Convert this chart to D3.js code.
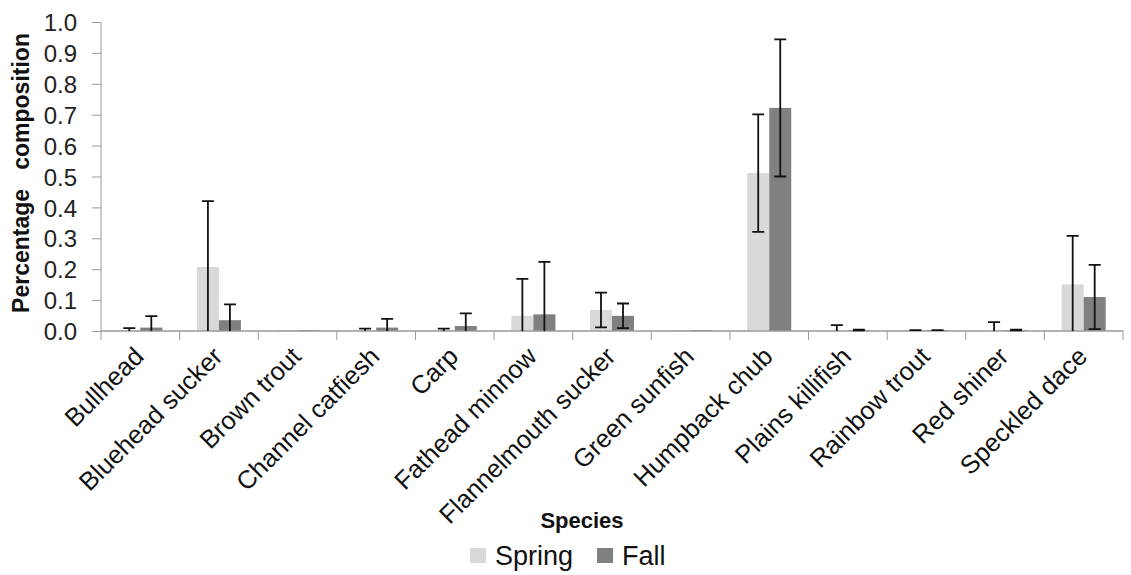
<!DOCTYPE html>
<html>
<head>
<meta charset="utf-8">
<script src="https://cdn.jsdelivr.net/npm/d3@7"></script>
<style>
    body { margin: 0; background: #fff; }
    text { font-family: "Liberation Sans", Arial, sans-serif; }
</style>
</head>
<body>
<div id="chart"></div>
<script>
var species = ["Bullhead", "Bluehead sucker", "Brown trout", "Channel catfiesh", "Carp",
    "Fathead minnow", "Flannelmouth sucker", "Green sunfish", "Humpback chub",
    "Plains killifish", "Rainbow trout", "Red shiner", "Speckled dace"];
var seasons = ["Spring", "Fall"];
var springValues = [0.002, 0.207, 0.003, 0.002, 0.002, 0.049, 0.068, 0.003, 0.511, 0.002, 0.003, 0.002, 0.151];
var springErrors = [0.007, 0.213, null, 0.006, 0.006, 0.12, 0.056, null, 0.19, 0.017, 0, 0.027, 0.157];
var fallValues = [0.011, 0.035, 0.003, 0.011, 0.016, 0.054, 0.049, 0.003, 0.722, 0.003, 0.003, 0.003, 0.11];
var fallErrors = [0.037, 0.051, null, 0.028, 0.041, 0.17, 0.04, null, 0.222, 0.001, 0, 0.001, 0.104];
var yTicks = [0, 0.1, 0.2, 0.3, 0.4, 0.5, 0.6, 0.7, 0.8, 0.9, 1.0];
var seasonColors = ["#d9d9d9", "#808080"];

var WIDTH = 1131, HEIGHT = 575;
var AXIS_COLOR = "#9a9a9a";

var svg = d3.select("#chart").append("svg")
    .attr("width", WIDTH)
    .attr("height", HEIGHT);

var x = d3.scaleBand().domain(species).range([101, 1123]).paddingInner(0.44).paddingOuter(0.22);
var xSeason = d3.scaleBand().domain(seasons).range([0, x.bandwidth()]);
var y = d3.scaleLinear().domain([0, 1]).range([331, 22]);
var color = d3.scaleOrdinal().domain(seasons).range(seasonColors);

// rows: one per bar
var rows = [];
species.forEach(function (s, i) {
    rows.push({species: s, season: "Spring", value: springValues[i], err: springErrors[i]});
    rows.push({species: s, season: "Fall", value: fallValues[i], err: fallErrors[i]});
});

// y axis
var yAxis = svg.append("g")
    .attr("transform", "translate(101,0)")
    .call(d3.axisLeft(y).tickValues(yTicks).tickFormat(d3.format(".1f")).tickSize(9).tickPadding(15));
yAxis.select(".domain").attr("stroke", AXIS_COLOR).attr("d", "M0," + y(1) + "V" + y(0));
yAxis.selectAll(".tick line").attr("stroke", AXIS_COLOR);
yAxis.selectAll(".tick text")
    .attr("fill", "#222")
    .style("font-size", "24px")
    .attr("dy", "0.36em");

// bars
svg.append("g").selectAll("rect")
    .data(rows)
    .enter().append("rect")
    .attr("x", function (d) { return x(d.species) + xSeason(d.season); })
    .attr("y", function (d) { return y(d.value); })
    .attr("width", xSeason.bandwidth())
    .attr("height", function (d) { return y(0) - y(d.value); })
    .attr("fill", function (d) { return color(d.season); });

// x axis (ticks at band boundaries)
var xAxis = svg.append("g").attr("transform", "translate(0," + y(0) + ")");
xAxis.append("line")
    .attr("x1", x.range()[0]).attr("x2", x.range()[1])
    .attr("stroke", AXIS_COLOR).attr("stroke-width", 1.5);
var bounds = species.map(function (s) { return x(s) - x.step() * x.paddingOuter(); });
bounds.push(x.range()[1]);
xAxis.selectAll("line.tk")
    .data(bounds)
    .enter().append("line")
    .attr("class", "tk")
    .attr("x1", function (d) { return d; }).attr("x2", function (d) { return d; })
    .attr("y1", 0).attr("y2", 9)
    .attr("stroke", AXIS_COLOR);

// error bars
var errRows = rows.filter(function (d) { return d.err !== null; });
var eb = svg.append("g").attr("stroke", "#111").attr("stroke-width", 1.8).attr("fill", "none");
var capW = 6;
eb.selectAll("path")
    .data(errRows)
    .enter().append("path")
    .attr("d", function (d) {
        var cx = x(d.species) + xSeason(d.season) + xSeason.bandwidth() / 2;
        var top = y(d.value + d.err);
        var lowV = d.value - d.err;
        var p = "M" + (cx - capW) + "," + top + "H" + (cx + capW) + "M" + cx + "," + top;
        if (lowV > 0) {
            p += "V" + y(lowV) + "M" + (cx - capW) + "," + y(lowV) + "H" + (cx + capW);
        } else {
            p += "V" + y(0);
        }
        return p;
    });

// category labels
svg.append("g").selectAll("text")
    .data(species)
    .enter().append("text")
    .attr("transform", function (d) {
        return "translate(" + (x(d) + x.bandwidth() / 2 + 5) + "," + (y(0) + 27) + ")rotate(-45)";
    })
    .attr("text-anchor", "end")
    .style("font-size", "25.5px")
    .attr("fill", "#111")
    .text(function (d) { return d; });

// axis titles
svg.append("text")
    .attr("transform", "translate(29,173)rotate(-90)")
    .attr("text-anchor", "middle")
    .style("font-size", "23px")
    .style("font-weight", "bold")
    .style("white-space", "pre")
    .attr("fill", "#111")
    .text("Percentage   composition");

svg.append("text")
    .attr("x", 582).attr("y", 528)
    .attr("text-anchor", "middle")
    .style("font-size", "22px")
    .style("font-weight", "bold")
    .attr("fill", "#111")
    .text("Species");

// legend
var legendX = d3.scaleOrdinal().domain(seasons).range([470, 597]);
var legend = svg.append("g").selectAll("g")
    .data(seasons)
    .enter().append("g")
    .attr("transform", function (d) { return "translate(" + legendX(d) + ",548)"; });
legend.append("rect")
    .attr("width", 16).attr("height", 15)
    .attr("fill", function (d) { return color(d); });
legend.append("text")
    .attr("x", 25).attr("y", 17)
    .style("font-size", "27px")
    .attr("fill", "#111")
    .text(function (d) { return d; });
</script>
</body>
</html>
